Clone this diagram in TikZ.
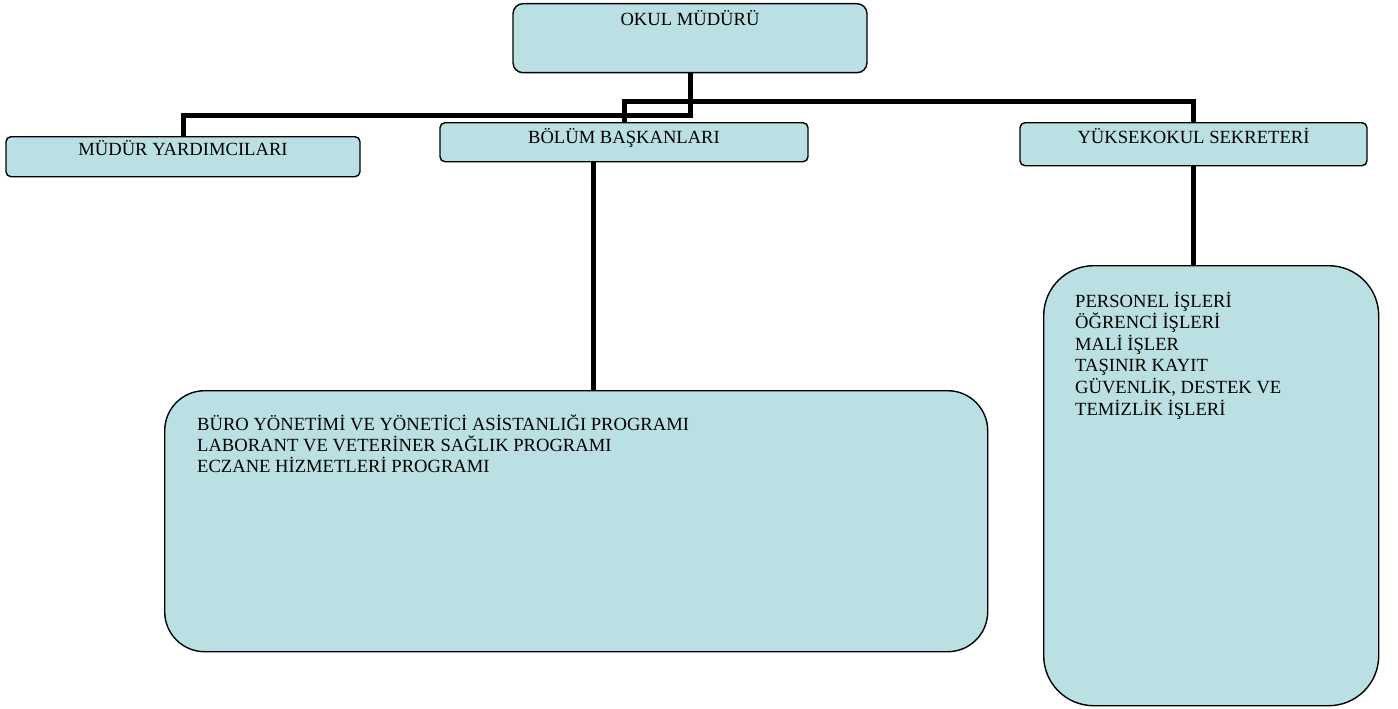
\documentclass[tikz,border=0pt]{standalone}
\usepackage{fontspec}
\setmainfont{Liberation Serif}
\usepackage{tikz}
\usepackage{color}
\definecolor{boxblue}{RGB}{187,224,228}
\newcommand{\chartfont}{\fontsize{18.6}{21.3}\selectfont}
\tikzset{
  box/.style={draw=black,line width=1.4pt,fill=boxblue,rounded corners=5pt,inner sep=0pt,font=\chartfont},
  link/.style={line width=5pt},
  item/.style={anchor=base west,inner sep=0pt,font=\chartfont}
}
\begin{document}
\begin{tikzpicture}[x=1pt,y=-1pt]
\useasboundingbox (0,0) rectangle (1398,709);
\coordinate (bar1) at (0,115);
\coordinate (bar2) at (0,101);
% begin boxes
\node[box,anchor=north,minimum width=354pt,text height=22pt,text depth=47pt,rounded corners=10pt] (okul) at (690,3) {OKUL MÜDÜRÜ};
\node[box,anchor=north,minimum width=354pt,text height=19pt,text depth=21pt] (mudur) at (183,136) {MÜDÜR YARDIMCILARI};
\node[box,anchor=north,minimum width=368pt,text height=21pt,text depth=18pt] (bolum) at (624,122) {BÖLÜM BAŞKANLARI};
\node[box,anchor=north,minimum width=347pt,text height=21pt,text depth=22pt] (sekreter) at (1193.5,122) {YÜKSEKOKUL SEKRETERİ};
\node[box,anchor=north west,minimum width=823pt,minimum height=261pt,rounded corners=40pt] (programlar) at (164,390) {};
\node[box,anchor=north west,minimum width=335pt,minimum height=440pt,rounded corners=50pt] (birimler) at (1043,265) {};
% connectors
\draw[link] (okul.south) |- (bar1 -| mudur.north) -- (mudur.north);
\draw[link] (okul.south |- bar2) -| (bolum.north);
\draw[link] (okul.south |- bar2) -| (sekreter.north);
\draw[link] ([xshift=-31pt]bolum.south) -- ([xshift=-31pt]bolum.south |- programlar.north);
\draw[link] (sekreter.south) -- (sekreter.south |- birimler.north);
% begin texts
\foreach \t [count=\i] in {BÜRO YÖNETİMİ VE YÖNETİCİ ASİSTANLIĞI PROGRAMI,LABORANT VE VETERİNER SAĞLIK PROGRAMI,ECZANE HİZMETLERİ PROGRAMI}
  \node[item] (prog\i) at (197,{430+21*(\i-1)}) {\t};
\foreach \t [count=\i] in {PERSONEL İŞLERİ,ÖĞRENCİ İŞLERİ,MALİ İŞLER,TAŞINIR KAYIT,{GÜVENLİK, DESTEK VE},TEMİZLİK İŞLERİ}
  \node[item] (birim\i) at (1075,{307+21.6*(\i-1)}) {\t};
\end{tikzpicture}
\end{document}
